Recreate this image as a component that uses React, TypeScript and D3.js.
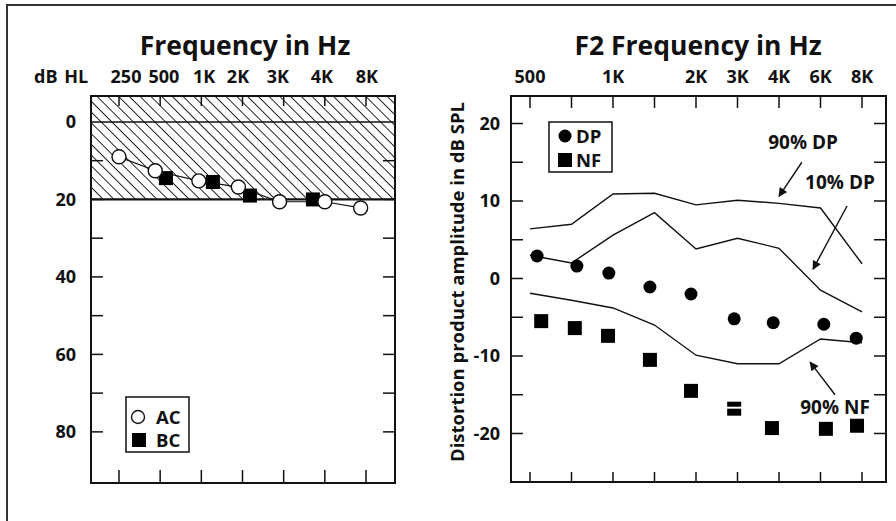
import React from 'react';
import * as d3 from 'd3';

// ---------- Left panel (audiogram) ----------
const leftCats = ['250', '500', '1K', '2K', '3K', '4K', '8K'];
const leftLabelPos = [0.17, 1.09, 2.07, 2.89, 3.86, 4.93, 6.02];
const leftYLabels = [0, 20, 40, 60, 80];
const leftYTicks = [10, 20, 30, 40, 50, 60, 70, 80];
const acPos = [0, 0.88, 1.94, 2.9, 3.9, 5.0, 5.87];
const acVals = [9, 12.6, 15.2, 16.8, 20.6, 20.6, 22.2];
const bcPos = [1.14, 2.28, 3.18, 4.71];
const bcVals = [14.5, 15.5, 19, 20];
const normalLimit = 20;

// ---------- Right panel (DPOAE) ----------
const rightCats = ['500', '750', '1K', '1.5K', '2K', '3K', '4K', '6K', '8K'];
const rightLabeled = ['500', '1K', '2K', '3K', '4K', '6K', '8K'];
const rightYLabels = [20, 10, 0, -10, -20];
const rightYTicks = [20, 15, 10, 5, 0, -5, -10, -15, -20];
const dpPos = [0.17, 1.13, 1.9, 2.89, 3.88, 4.92, 5.86, 7.08, 7.86];
const dpVals = [2.9, 1.6, 0.7, -1.1, -2.0, -5.2, -5.7, -5.9, -7.7];
const nfPos = [0.27, 1.08, 1.88, 2.89, 3.88, 4.92, 5.83, 7.13, 7.88];
const nfVals = [-5.5, -6.4, -7.4, -10.5, -14.5, -16.8, -19.3, -19.4, -19.0];
const p90dp = [6.4, 7.0, 10.9, 11.0, 9.5, 10.1, 9.7, 9.1, 1.9];
const p10dp = [3.0, 2.0, 5.6, 8.5, 3.8, 5.2, 3.9, -1.5, -4.3];
const p90nf = [-1.9, -2.8, -3.8, -6.0, -9.9, -11.0, -11.0, -7.8, -8.3];

const annotations = [
  { text: '90% DP', tx: 6.58, ty: 17.6, ax0: 6.55, ay0: 15.0, ax1: 6.0, ay1: 10.6 },
  { text: '10% DP', tx: 7.47, ty: 12.45, ax0: 7.64, ay0: 9.35, ax1: 6.82, ay1: 1.2 },
  { text: '90% NF', tx: 7.35, ty: -16.6, ax0: 7.35, ay0: -15.0, ax1: 6.75, ay1: -10.8 },
];

const FONT = "'Open Sans', sans-serif";

export default function App() {
  // left panel geometry
  const L = { x0: 91, x1: 395, y0: 96, y1: 483 };
  const lx = d3.scaleLinear().domain([0, leftCats.length - 1]).range([119, 366]);
  const ly = d3.scaleLinear().domain([-6.7, 93.2]).range([L.y0, L.y1]);

  // right panel geometry
  const R = { x0: 511, x1: 886, y0: 96, y1: 482 };
  const rx = d3.scaleLinear().domain([0, rightCats.length - 1]).range([530, 862]);
  const ry = d3.scaleLinear().domain([23.55, -26.26]).range([R.y0, R.y1]);

  const acLine = d3.line<number>().x((_, i) => lx(acPos[i])).y((d) => ly(d))(acVals) || '';
  const rLine = (vals: number[]) =>
    d3.line<number>().x((_, i) => rx(i)).y((d) => ry(d))(vals) || '';

  const tickLen = 12;
  const stroke = '#111';
  const FS = 18;
  const LEG = 18.5;
  const ANN = 19;
  const TITLE = 26.5;

  return (
    <svg
      width={896}
      height={521}
      style={{ position: 'absolute', left: 0, top: 0, background: '#fff' }}
      fontFamily={FONT}
    >
      <defs>
        <pattern id="hatch" width={7.6} height={7.6} patternUnits="userSpaceOnUse" patternTransform="rotate(-45)">
          <line x1={0} y1={-2} x2={0} y2={10} stroke="#000" strokeWidth={1.7} />
        </pattern>
        <marker id="arrow" viewBox="0 0 10 10" refX={9} refY={5} markerWidth={10} markerHeight={9} markerUnits="userSpaceOnUse" orient="auto">
          <path d="M0,0 L10,5 L0,10 z" fill="#111" />
        </marker>
      </defs>
      <rect x={0} y={0} width={896} height={521} fill="#fff" />
      {/* outer frame */}
      <rect x={7} y={5} width={1000} height={600} fill="none" stroke="#333" strokeWidth={2} />

      {/* ================= LEFT PANEL ================= */}
      <text x={245} y={55} textAnchor="middle" fontSize={TITLE} fontWeight={700} fill={stroke}>Frequency in Hz</text>
      <text x={34} y={83} textAnchor="start" fontSize={FS} fontWeight={700} fill={stroke} wordSpacing={2}>dB HL</text>
      {leftCats.map((c, i) => (
        <text key={c} x={lx(leftLabelPos[i])} y={83} textAnchor="middle" fontSize={FS} fontWeight={700} fill={stroke}>{c}</text>
      ))}
      {/* hatched normal region */}
      <rect x={L.x0} y={L.y0} width={L.x1 - L.x0} height={ly(normalLimit) - L.y0} fill="url(#hatch)" />
      <line x1={L.x0} x2={L.x1} y1={ly(0)} y2={ly(0)} stroke={stroke} strokeWidth={1.6} />
      <line x1={L.x0} x2={L.x1} y1={ly(normalLimit)} y2={ly(normalLimit)} stroke={stroke} strokeWidth={2.2} />
      {/* ticks */}
      {leftYTicks.map((t) => (
        <g key={t}>
          <line x1={L.x0} x2={L.x0 + tickLen} y1={ly(t)} y2={ly(t)} stroke={stroke} strokeWidth={1.5} />
          <line x1={L.x1} x2={L.x1 - tickLen} y1={ly(t)} y2={ly(t)} stroke={stroke} strokeWidth={1.5} />
        </g>
      ))}
      {leftCats.map((c, i) => (
        <g key={c}>
          <line x1={lx(i)} x2={lx(i)} y1={L.y1} y2={L.y1 - 13} stroke={stroke} strokeWidth={1.5} />
          <line x1={lx(i)} x2={lx(i)} y1={L.y0} y2={L.y0 + 10} stroke={stroke} strokeWidth={1.5} />
        </g>
      ))}
      {leftYLabels.map((t) => (
        <text key={t} x={76} y={ly(t)} dy="0.36em" textAnchor="end" fontSize={FS} fontWeight={700} fill={stroke}>{t}</text>
      ))}
      <rect x={L.x0} y={L.y0} width={L.x1 - L.x0} height={L.y1 - L.y0} fill="none" stroke={stroke} strokeWidth={2} />
      {/* AC line + points */}
      <path d={acLine} fill="none" stroke={stroke} strokeWidth={1.2} />
      {bcVals.map((v, i) => (
        <rect key={i} x={lx(bcPos[i]) - 7} y={ly(v) - 7} width={14} height={14} fill="#000" />
      ))}
      {acVals.map((v, i) => (
        <circle key={i} cx={lx(acPos[i])} cy={ly(v)} r={7} fill="#fff" stroke={stroke} strokeWidth={1.4} />
      ))}
      {/* legend */}
      <rect x={126} y={397} width={63} height={55} fill="#fff" stroke={stroke} strokeWidth={1.5} />
      <circle cx={138} cy={417} r={6.5} fill="#fff" stroke={stroke} strokeWidth={1.4} />
      <rect x={132} y={433} width={14} height={14} fill="#000" />
      <text x={156} y={417} dy="0.36em" fontSize={LEG} fontWeight={700} fill={stroke}>AC</text>
      <text x={156} y={440} dy="0.36em" fontSize={LEG} fontWeight={700} fill={stroke}>BC</text>

      {/* ================= RIGHT PANEL ================= */}
      <text x={698} y={55} textAnchor="middle" fontSize={TITLE} fontWeight={700} fill={stroke}>F2 Frequency in Hz</text>
      {rightCats.map((c, i) =>
        rightLabeled.includes(c) ? (
          <text key={c} x={rx(i)} y={83} textAnchor="middle" fontSize={FS} fontWeight={700} fill={stroke}>{c}</text>
        ) : null
      )}
      {rightCats.map((c, i) => (
        <g key={c}>
          <line x1={rx(i)} x2={rx(i)} y1={R.y0} y2={R.y0 + 12} stroke={stroke} strokeWidth={1.5} />
          <line x1={rx(i)} x2={rx(i)} y1={R.y1} y2={R.y1 - 10} stroke={stroke} strokeWidth={1.5} />
        </g>
      ))}
      {rightYTicks.map((t) => (
        <g key={t}>
          <line x1={R.x0} x2={R.x0 + tickLen} y1={ry(t)} y2={ry(t)} stroke={stroke} strokeWidth={1.5} />
          <line x1={R.x1} x2={R.x1 - tickLen} y1={ry(t)} y2={ry(t)} stroke={stroke} strokeWidth={1.5} />
        </g>
      ))}
      {rightYLabels.map((t) => (
        <text key={t} x={500} y={ry(t)} dy="0.36em" textAnchor="end" fontSize={FS} fontWeight={700} fill={stroke}>{t}</text>
      ))}
      <text
        transform={`translate(464, 282) rotate(-90)`}
        textAnchor="middle"
        fontSize={18.5}
        fontWeight={700}
        fill={stroke}
      >
        Distortion product amplitude in dB SPL
      </text>
      <rect x={R.x0} y={R.y0} width={R.x1 - R.x0} height={R.y1 - R.y0} fill="none" stroke={stroke} strokeWidth={2} />
      {/* percentile lines */}
      <path d={rLine(p90dp)} fill="none" stroke={stroke} strokeWidth={1.4} />
      <path d={rLine(p10dp)} fill="none" stroke={stroke} strokeWidth={1.4} />
      <path d={rLine(p90nf)} fill="none" stroke={stroke} strokeWidth={1.4} />
      {/* DP points */}
      {dpVals.map((v, i) => (
        <circle key={i} cx={rx(dpPos[i])} cy={ry(v)} r={6.5} fill="#000" />
      ))}
      {/* NF points */}
      {nfVals.map((v, i) => (
        <g key={i}>
          <rect x={rx(nfPos[i]) - 7} y={ry(v) - 7} width={14} height={14} fill="#000" />
          {i === 5 ? (
            <line x1={rx(nfPos[i]) - 8} x2={rx(nfPos[i]) + 8} y1={ry(v) - 1} y2={ry(v) - 1} stroke="#fff" strokeWidth={2} />
          ) : null}
        </g>
      ))}
      {/* annotations */}
      {annotations.map((a) => (
        <g key={a.text}>
          <text x={rx(a.tx)} y={ry(a.ty)} dy="0.36em" textAnchor="middle" fontSize={ANN} fontWeight={700} fill={stroke}>{a.text}</text>
          <line x1={rx(a.ax0)} y1={ry(a.ay0)} x2={rx(a.ax1)} y2={ry(a.ay1)} stroke={stroke} strokeWidth={1.4} markerEnd="url(#arrow)" />
        </g>
      ))}
      {/* legend */}
      <rect x={549} y={122} width={63} height={50} fill="#fff" stroke={stroke} strokeWidth={1.5} />
      <circle cx={565} cy={136} r={6.5} fill="#000" />
      <rect x={558} y={153} width={14} height={14} fill="#000" />
      <text x={576} y={136} dy="0.36em" fontSize={LEG} fontWeight={700} fill={stroke}>DP</text>
      <text x={576} y={160} dy="0.36em" fontSize={LEG} fontWeight={700} fill={stroke}>NF</text>
    </svg>
  );
}
